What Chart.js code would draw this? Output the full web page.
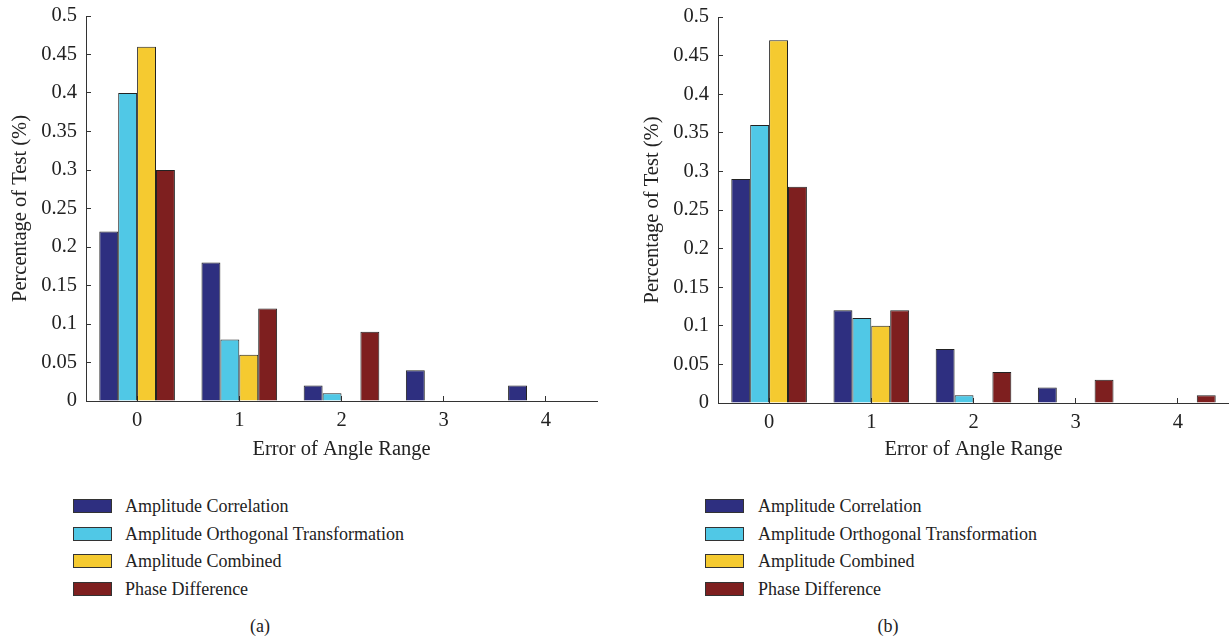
<!DOCTYPE html>
<html>
<head>
<meta charset="utf-8">
<script src="https://cdn.jsdelivr.net/npm/chart.js@4"></script>
<style>
  body { margin: 0; background: #fff; width: 1229px; height: 641px; position: relative; overflow: hidden;
         font-family: "Liberation Serif", "DejaVu Serif", serif; color: #222; }
  .wrap { position: absolute; top: 0; height: 470px; }
  .legend { position: absolute; font-size: 18px; }
  .legend .row { position: absolute; white-space: nowrap; height: 20px; line-height: 20px; }
  .legend .sw { position: absolute; left: 0; top: 3px; width: 37px; height: 12px; border: 1px solid #333; }
  .legend .txt { position: absolute; }
  .cap { position: absolute; font-size: 18px; top: 616px; transform: translateX(-50%); }
</style>
</head>
<body>
<div class="wrap" style="left:0;width:610px"><canvas id="chartA"></canvas></div>
<div class="wrap" style="left:632px;width:597px"><canvas id="chartB"></canvas></div>
<div class="legend" id="legA" style="left:73px;top:496px"></div>
<div class="legend" id="legB" style="left:705px;top:496px"></div>
<div class="cap" style="left:260px">(a)</div>
<div class="cap" style="left:888px">(b)</div>
<script>
const categories = ['0', '1', '2', '3', '4'];
const seriesNames = ['Amplitude Correlation', 'Amplitude Orthogonal Transformation', 'Amplitude Combined', 'Phase Difference'];
const seriesColors = ['#2e2f80', '#50c8e6', '#f5ca30', '#7e1f1f'];

// panel (a)
const corrA = [0.22, 0.18, 0.02, 0.04, 0.02];
const orthoA = [0.40, 0.08, 0.01, 0, 0];
const combA = [0.46, 0.06, 0, 0, 0];
const phaseA = [0.30, 0.12, 0.09, 0, 0];

// panel (b)
const corrB = [0.29, 0.12, 0.07, 0.02, 0];
const orthoB = [0.36, 0.11, 0.01, 0, 0];
const combB = [0.47, 0.10, 0, 0, 0];
const phaseB = [0.28, 0.12, 0.04, 0.03, 0.01];

const FONT = "'Liberation Serif', 'DejaVu Serif', serif";
const INK = '#333';
const AXIS_SIZE = 20.5;

// top / bottom of plot area and right padding, in canvas px
function makeChart(id, series, top, bottom, right) {
  const datasets = series.map((vals, i) => ({
    label: seriesNames[i],
    data: vals,
    backgroundColor: seriesColors[i],
    borderColor: '#222',
    borderWidth: 1,
    categoryPercentage: 0.74,
    barPercentage: 1.0
  }));

  return new Chart(document.getElementById(id), {
    type: 'bar',
    data: { labels: categories, datasets: datasets },
    options: {
      animation: false,
      responsive: true,
      maintainAspectRatio: false,
      layout: { padding: { top: top, right: right, bottom: 0, left: 0 } },
      plugins: { legend: { display: false }, tooltip: { enabled: false } },
      scales: {
        x: {
          grid: { display: true, drawOnChartArea: false, offset: false, tickLength: -5, color: INK },
          border: { color: INK, width: 1 },
          ticks: { color: '#222', padding: 12, font: { family: FONT, size: AXIS_SIZE } },
          title: { display: true, text: 'Error of Angle Range', color: '#222', padding: { top: 0, bottom: 8 }, font: { family: FONT, size: AXIS_SIZE } },
          afterFit: s => { s.height = 470 - bottom; s.paddingLeft = 0; s.paddingRight = 0; }
        },
        y: {
          min: 0,
          max: 0.5,
          grid: { display: true, drawOnChartArea: false, tickLength: -5, color: INK },
          border: { color: INK, width: 1 },
          ticks: {
            stepSize: 0.05,
            color: '#222',
            padding: 14,
            font: { family: FONT, size: AXIS_SIZE },
            callback: v => String(+v.toFixed(2))
          },
          title: { display: true, text: 'Percentage of Test (%)', color: '#222', padding: { top: 8, bottom: 0 }, font: { family: FONT, size: AXIS_SIZE } },
          afterFit: s => { s.width = 86; s.paddingTop = 0; s.paddingBottom = 0; }
        }
      }
    }
  });
}

function makeLegend(id) {
  const el = document.getElementById(id);
  seriesNames.forEach((name, i) => {
    const row = document.createElement('div');
    row.className = 'row';
    row.style.top = (i * 27.7) + 'px';
    row.innerHTML = '<span class="sw" style="background:' + seriesColors[i] + '"></span>' +
                    '<span class="txt" style="left:' + (id === 'legA' ? 52 : 53) + 'px">' + name + '</span>';
    el.appendChild(row);
  });
}

makeChart('chartA', [corrA, orthoA, combA, phaseA], 16, 401, 13);
makeChart('chartB', [corrB, orthoB, combB, phaseB], 17, 403, 0);
makeLegend('legA');
makeLegend('legB');
</script>
</body>
</html>
